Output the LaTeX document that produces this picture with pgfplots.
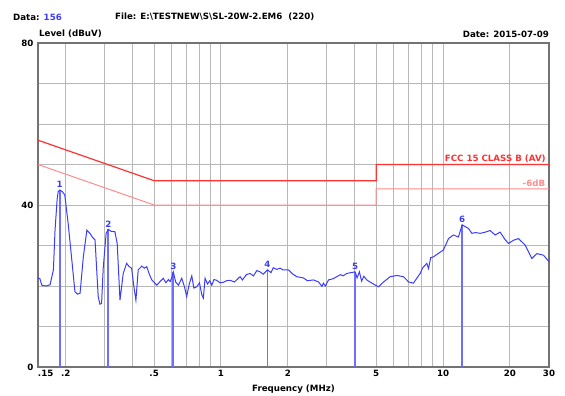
\documentclass[border=0pt]{standalone}
\usepackage{pgfplots}
\pgfplotsset{compat=1.18}
\usepackage{fontspec}
\setmainfont{DejaVu Sans}
\definecolor{trc}{RGB}{60,60,255}
\definecolor{mkb}{RGB}{110,110,255}
\definecolor{limA}{RGB}{255,50,50}
\definecolor{limB}{RGB}{255,140,140}
\newcommand{\lf}{\fontsize{8.7}{10}\selectfont\bfseries}
\begin{document}
\begin{tikzpicture}
\useasboundingbox (-38bp,-29bp) rectangle (527bp,367bp);
\begin{axis}[
 at={(0,0)}, anchor=south west,
 scale only axis, width=511bp, height=324bp,
 xmode=log, xmin=0.15, xmax=30, ymin=0, ymax=80,
 xtick={0.15,0.2,0.5,1,2,5,10,20,30},
 xticklabels={\makebox[0pt][l]{.15},.2,.5,1,2,5,10,20,30},
 minor xtick={0.3,0.4,0.6,0.7,0.8,0.9,3,4,6,7,8,9},
 ytick={0,10,...,80},
 yticklabels={0,,,,40,,,,80},
 grid=both,
 major grid style={black!28, line width=1bp},
 minor grid style={black!28, line width=1bp},
 major tick length=0pt, minor tick length=0pt,
 axis line style={black!55, line width=1.3bp},
 /pgf/number format/assume math mode=true,
 ticklabel style={font=\lf},
 yticklabel style={xshift=-1bp},
 xlabel={Frequency (MHz)},
 xlabel style={font=\lf, at={(rel axis cs:0.5,0)}, anchor=center, yshift=-22bp},
 clip=false,
 unbounded coords=jump,
]
\addplot[limB, line width=1bp] coordinates {(0.15,50) (0.5,40) (5,40) (5,44) (30,44)};
\addplot[limA, line width=1.2bp] coordinates {(0.15,56) (0.5,46) (5,46) (5,50) (30,50)};
\node[anchor=south east, font=\lf, text=limA, inner sep=1.5bp] at (axis cs:29.5,50) {FCC 15 CLASS B (AV)};
\node[anchor=south east, font=\lf, text=limB, inner sep=2bp] at (axis cs:29.5,44) {-6dB};
% marker lines
\addplot[draw=mkb, line width=1.8bp, mark=none, line cap=butt] coordinates {
(0.188,0) (0.188,43.7) (0.188,nan)
(0.311,0) (0.311,34.0) (0.311,nan)
(0.61,0) (0.61,23.5) (0.61,nan)
(1.62,0) (1.62,24.0) (1.62,nan)
(4.02,0) (4.02,23.5) (4.02,nan)
(12.19,0) (12.19,35.1)};
% marker labels
\addplot[draw=none, mark=none, nodes near coords, point meta=explicit symbolic,
  nodes near coords style={font=\lf, text=trc, anchor=south, inner sep=2bp}]
  coordinates {(0.188,43.7)[1] (0.311,34.0)[2] (0.61,23.5)[3] (1.62,24.0)[4] (4.02,23.5)[5] (12.19,35.1)[6]};
\addplot[draw=trc, line width=1bp, mark=none] coordinates {
(0.150,22.0) (0.153,21.8) (0.156,20.2) (0.163,20.0) (0.170,20.3) (0.176,24.0)
(0.179,33.8) (0.183,41.5) (0.185,43.3) (0.188,43.7) (0.193,43.3) (0.198,42.5)
(0.205,35.5) (0.213,26.4) (0.220,18.6) (0.226,18.0) (0.232,18.2) (0.240,27.2)
(0.249,33.8) (0.257,33.0) (0.264,32.0) (0.271,31.4) (0.280,17.4) (0.285,15.5)
(0.290,15.7) (0.295,24.4) (0.304,33.0) (0.311,34.0) (0.320,33.5) (0.333,33.4)
(0.341,30.5) (0.351,16.5) (0.363,23.1) (0.376,25.6) (0.386,24.8) (0.396,24.4)
(0.405,20.0) (0.414,16.5) (0.424,24.0) (0.440,24.9) (0.452,24.4) (0.463,24.8)
(0.475,23.0) (0.488,21.5) (0.514,20.2) (0.530,21.0) (0.550,21.9) (0.565,20.8)
(0.580,21.6) (0.590,21.1) (0.600,22.0) (0.610,23.5) (0.625,21.0) (0.643,20.2)
(0.666,21.9) (0.685,19.8) (0.701,17.4) (0.720,20.5) (0.739,22.5) (0.755,19.5)
(0.778,19.8) (0.800,20.8) (0.820,17.8) (0.833,17.0) (0.848,21.9) (0.870,20.5)
(0.890,21.3) (0.909,20.2) (0.930,21.6) (0.957,21.4) (0.990,20.8) (1.025,20.9)
(1.06,21.3) (1.099,21.4) (1.15,21.0) (1.219,22.3) (1.25,21.5) (1.30,22.8)
(1.352,23.1) (1.40,22.5) (1.45,23.8) (1.50,23.5) (1.55,22.9) (1.62,24.0)
(1.68,23.3) (1.72,24.5) (1.784,24.1) (1.846,24.4) (1.90,24.0) (2.012,24.0)
(2.10,23.0) (2.195,22.3) (2.35,22.0) (2.45,21.3) (2.608,21.5) (2.75,21.0)
(2.85,19.9) (2.892,20.7) (2.95,20.0) (3.05,21.5) (3.20,21.8) (3.324,22.3)
(3.45,22.8) (3.55,22.5) (3.687,23.1) (3.85,23.3) (4.02,23.5) (4.10,22.0)
(4.20,23.5) (4.30,21.2) (4.40,22.4) (4.536,21.5) (4.75,20.8) (5.0,20.1)
(5.118,19.8) (5.4,21.0) (5.778,22.3) (6.2,22.6) (6.632,22.3) (7.0,21.0)
(7.355,20.7) (7.886,23.1) (8.1,24.5) (8.452,25.6) (8.6,24.3) (8.8,27.0)
(9.05,27.2) (9.5,28.0) (10.04,28.9) (10.58,31.7) (11.14,32.6) (11.73,32.1)
(12.19,35.1) (13.02,34.2) (13.48,33.0) (14.0,33.2) (14.69,33.0) (15.5,33.3)
(16.29,33.7) (17.16,32.6) (18.08,33.3) (19.0,31.5) (19.71,30.5) (20.76,31.3)
(21.86,31.7) (23.43,30.1) (25.11,26.8) (26.46,28.0) (28.34,27.6) (30.0,26.0)};
\end{axis}
\node[anchor=west, font=\lf, inner sep=0] at (-25bp,350bp) {Data: \textcolor{trc}{156}};
\node[anchor=west, font=\lf, inner sep=0] at (77bp,350bp) {File: E:\textbackslash TESTNEW\textbackslash S\textbackslash SL-20W-2.EM6~~(220)};
\node[anchor=west, font=\lf, inner sep=0] at (1bp,333bp) {Level (dBuV)};
\node[anchor=east, font=\lf, inner sep=0] at (511bp,333bp) {Date: 2015-07-09};
\end{tikzpicture}
\end{document}
